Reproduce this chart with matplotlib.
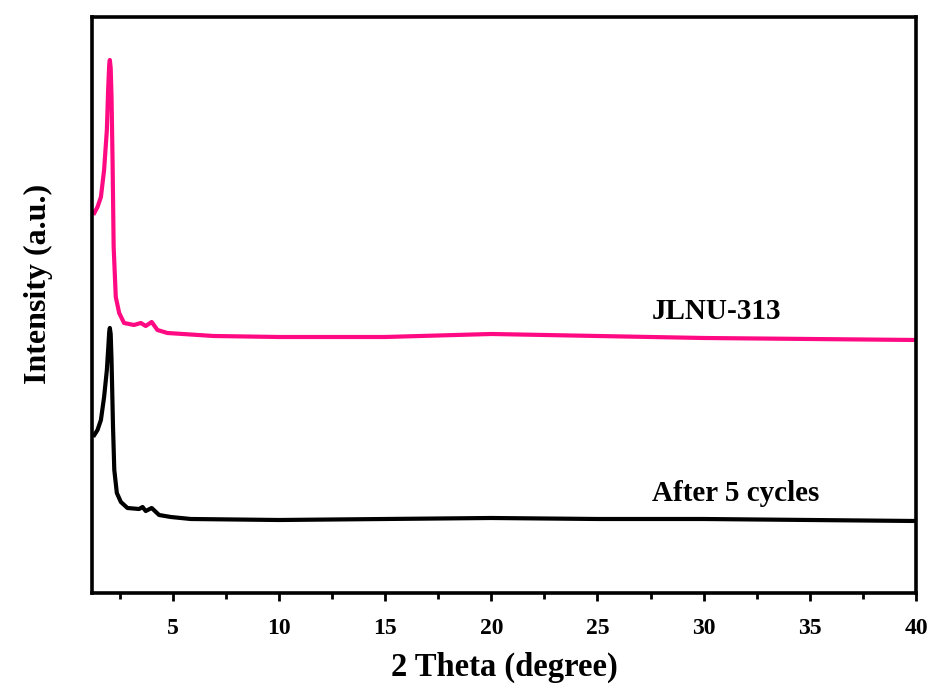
import numpy as np
import matplotlib.pyplot as plt
from matplotlib.ticker import MultipleLocator

plt.rcParams['font.family'] = ['Liberation Serif', 'DejaVu Serif']
plt.rcParams['font.weight'] = 'bold'

# --- XRD patterns (2 theta in degrees, intensity in arbitrary units) ---
theta_jlnu = [1.31, 1.46, 1.62, 1.77, 1.90, 1.96, 2.01, 2.04, 2.08, 2.12, 2.17, 2.22,
              2.32, 2.48, 2.71, 3.18, 3.50, 3.73, 4.01, 4.28, 4.75, 6.92,
              10, 15, 20, 25, 30, 35, 40]
int_jlnu = [380, 386, 396, 423, 463, 503, 528, 533, 525, 496, 430, 346,
            296, 280, 270, 268, 270, 267, 271, 263, 260, 257,
            256, 256, 259, 257, 255, 254, 253]

theta_cyc = [1.31, 1.46, 1.62, 1.77, 1.90, 1.98, 2.01, 2.04, 2.08, 2.12, 2.19, 2.25,
             2.37, 2.56, 2.87, 3.42, 3.58, 3.73, 4.01, 4.36, 4.91, 5.85,
             10, 15, 20, 25, 30, 35, 40]
int_cyc = [158, 163, 173, 196, 223, 250, 261, 265, 259, 233, 166, 123,
           100, 91, 85, 84, 86, 82, 85, 78, 76, 74,
           73, 74, 75, 74, 74, 73, 72]

fig = plt.figure(figsize=(9.33, 6.93), dpi=100)
ax = fig.add_axes([0.0986, 0.1443, 0.8832, 0.8312])

ax.plot(theta_jlnu, int_jlnu, color='#FF0A82', linewidth=3, solid_joinstyle='round')
ax.plot(theta_cyc, int_cyc, color='black', linewidth=3, solid_joinstyle='round')

ax.text(0.758, 0.488, 'JLNU-313', transform=ax.transAxes,
        ha='center', va='center', fontsize=21, fontweight='bold')
ax.text(0.781, 0.172, 'After 5 cycles', transform=ax.transAxes,
        ha='center', va='center', fontsize=21, fontweight='bold')

ax.set_xlim(1.2, 40)
ax.set_ylim(0, 576)
ax.xaxis.set_major_locator(MultipleLocator(5))
ax.xaxis.set_minor_locator(MultipleLocator(2.5))
ax.set_yticks([])

ax.tick_params(axis='x', which='major', direction='out', length=6, width=2,
               labelsize=17, pad=12)
ax.tick_params(axis='x', which='minor', direction='out', length=4, width=2)
for lab in ax.get_xticklabels():
    lab.set_fontweight('bold')

for sp in ax.spines.values():
    sp.set_linewidth(2.6)

ax.set_xlabel('2 Theta (degree)', fontsize=23.5, fontweight='bold', labelpad=9)
ax.set_ylabel('Intensity (a.u.)', fontsize=23, fontweight='bold')
ax.yaxis.set_label_coords(-0.047, 0.536)

fig.savefig('out.png', dpi=100)
